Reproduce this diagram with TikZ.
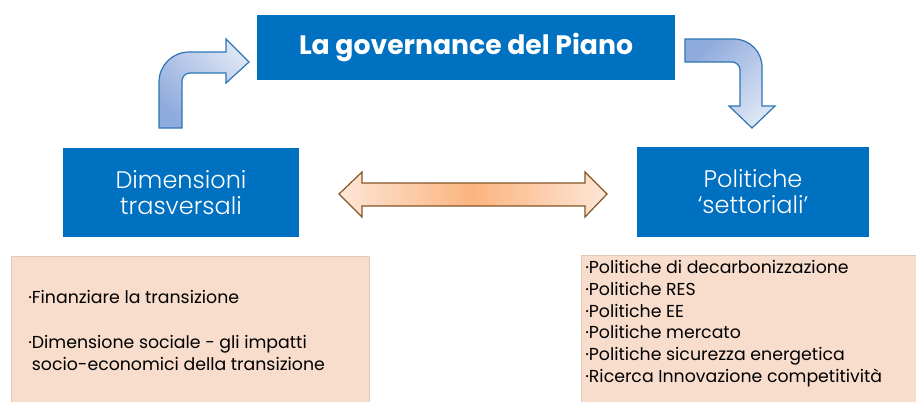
\documentclass[tikz,border=0pt]{standalone}
\usepackage{fontspec}
\setmainfont{Poppins}
\newfontfamily\lightfont{Poppins Light}
\usetikzlibrary{arrows.meta}
\definecolor{boxblue}{HTML}{0070C0}
\definecolor{listpink}{HTML}{F8DDCD}
\definecolor{listedge}{HTML}{E2C9BA}
\definecolor{bendedge}{HTML}{2E75B6}
\definecolor{benddark}{HTML}{8FAADC}
\definecolor{bendlight}{HTML}{DCE5F4}
\definecolor{linkedge}{HTML}{845626}
\definecolor{linkmid}{HTML}{FBB47E}
\definecolor{linkside}{HTML}{FDE6D7}

\begin{document}
\begin{tikzpicture}[x=0.75pt,y=-0.75pt,
  bluebox/.style={fill=boxblue,text=white,align=center,inner sep=0pt},
  listbox/.style={fill=listpink,draw=listedge,line width=0.6pt,inner sep=0pt},
  listtext/.style={anchor=north west,align=left,inner sep=0pt,font=\fontsize{13}{16.35}\selectfont},
  bendarrow/.style={draw=bendedge,line width=0.9pt,line join=miter},
  linkarrow/.style={draw=linkedge,line width=0.9pt,left color=linkside,right color=linkside,middle color=linkmid}]
\useasboundingbox (0,0) rectangle (916,401);
\node[bluebox,minimum width=313.5pt,minimum height=48.75pt,font=\bfseries\fontsize{20}{22}\selectfont] (gov) at (466,47.5) {La governance del Piano};
\node[bluebox,minimum width=177pt,minimum height=66.75pt,font=\lightfont\fontsize{18}{19.5}\selectfont] (dim) at (181,192.5) {Dimensioni\\trasversali};
\node[bluebox,minimum width=174pt,minimum height=67.5pt,font=\lightfont\fontsize{18}{19.5}\selectfont] (pol) at (753,192) {Politiche\\‘settoriali’};
\node[listbox,minimum width=268.5pt,minimum height=115.5pt] (dimbox) at (190,333) {};
\node[listbox,minimum width=258pt,minimum height=116.25pt] (polbox) at (753,332.5) {};
\node[listtext] (dimtext) at (28,290) {·Finanziare la transizione\\[17.5pt]·Dimensione sociale - gli impatti\\\phantom{·}socio-economici della transizione};
\node[listtext] (poltext) at (585,260) {·Politiche di decarbonizzazione\\·Politiche RES\\·Politiche EE\\·Politiche mercato\\·Politiche sicurezza energetica\\·Ricerca Innovazione competitività};
\draw[bendarrow,top color=bendlight,bottom color=benddark,shading angle=-45] (159,128) -- (159,82) arc[start angle=180,end angle=270,radius=30] -- (226,52) -- (226,39) -- (249,62) -- (226,83) -- (226,73) -- (190,73) arc[start angle=270,end angle=180,radius=8] -- (182,128) -- cycle;
\draw[bendarrow,top color=benddark,bottom color=bendlight,shading angle=45] (685,39) -- (734,39) arc[start angle=270,end angle=360,radius=28] -- (762,106) -- (775,106) -- (752,128) -- (729,106) -- (740,106) -- (740,70) arc[start angle=0,end angle=-90,radius=8] -- (685,62) -- cycle;
\draw[linkarrow] (339,194) -- (362,172) -- (362,183) -- (585,183) -- (585,172) -- (607,194) -- (585,217) -- (585,206) -- (362,206) -- (362,217) -- cycle;
\end{tikzpicture}
\end{document}
